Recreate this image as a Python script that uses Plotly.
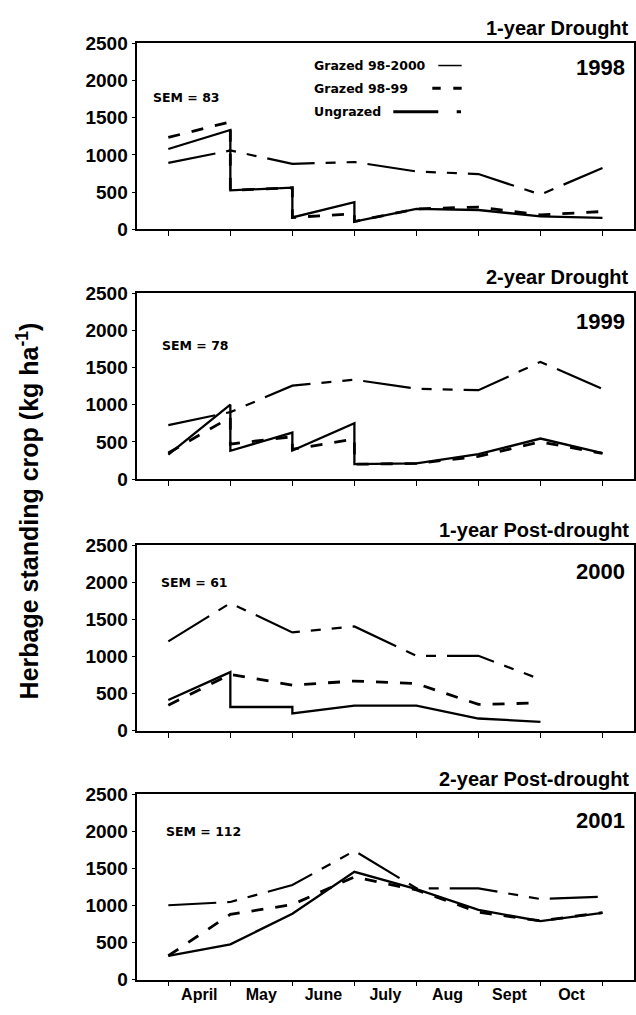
import plotly.graph_objects as go

W, H = 636, 1015

# ---------------- data ----------------
months = ["April", "May", "June", "July", "Aug", "Sept", "Oct"]
boundaries = [0, 1, 2, 3, 4, 5, 6, 7]
month_mid = [0.5, 1.5, 2.5, 3.5, 4.5, 5.5, 6.5]
yticks = [0, 500, 1000, 1500, 2000, 2500]

years = ["1998", "1999", "2000", "2001"]
panel_titles = ["1-year Drought", "2-year Drought", "1-year Post-drought", "2-year Post-drought"]
sem_labels = ["SEM = 83", "SEM = 78", "SEM = 61", "SEM = 112"]
series_names = ["Grazed 98-2000", "Grazed 98-99", "Ungrazed"]

# 1998 (grazed treatments both defoliated at May, June, July boundaries)
g9800_x_1998 = [0, 1, 1, 2, 2, 3, 3, 4, 5, 6, 7]
g9800_y_1998 = [1080, 1335, 525, 560, 160, 365, 105, 275, 260, 175, 155]
g9899_x_1998 = [0, 1, 1, 2, 2, 3, 3, 4, 5, 6, 7]
g9899_y_1998 = [1235, 1445, 525, 560, 160, 210, 105, 275, 300, 195, 240]
ungr_x_1998 = [0, 1, 2, 3, 4, 5, 6, 7]
ungr_y_1998 = [893, 1060, 880, 905, 778, 743, 468, 826]

# 1999
g9800_x_1999 = [0, 1, 1, 2, 2, 3, 3, 4, 5, 6, 7]
g9800_y_1999 = [330, 1000, 380, 625, 385, 750, 200, 210, 335, 545, 350]
g9899_x_1999 = [0, 1, 1, 2, 2, 3, 3, 4, 5, 6, 7]
g9899_y_1999 = [350, 830, 470, 570, 400, 540, 200, 210, 305, 500, 345]
ungr_x_1999 = [0, 1, 2, 3, 4, 5, 6, 7]
ungr_y_1999 = [725, 900, 1255, 1335, 1215, 1195, 1575, 1210]

# 2000
g9800_x_2000 = [0, 1, 1, 2, 2, 3, 4, 5, 6]
g9800_y_2000 = [415, 790, 320, 320, 235, 340, 340, 165, 120]
g9899_x_2000 = [0, 1, 2, 3, 4, 5, 6]
g9899_y_2000 = [345, 760, 615, 670, 635, 355, 375]
ungr_x_2000 = [0, 1, 2, 3, 4, 5, 6]
ungr_y_2000 = [1205, 1720, 1325, 1405, 1010, 1010, 692]

# 2001
g9800_x_2001 = [0, 1, 2, 3, 4, 5, 6, 7]
g9800_y_2001 = [320, 475, 889, 1455, 1220, 940, 790, 900]
g9899_x_2001 = [0, 1, 2, 3, 4, 5, 6, 7]
g9899_y_2001 = [321, 880, 1012, 1386, 1210, 910, 792, 905]
ungr_x_2001 = [0, 1, 2, 3, 4, 5, 6, 7]
ungr_y_2001 = [1003, 1047, 1276, 1738, 1232, 1232, 1087, 1118]

panels = [
    [(g9800_x_1998, g9800_y_1998), (g9899_x_1998, g9899_y_1998), (ungr_x_1998, ungr_y_1998)],
    [(g9800_x_1999, g9800_y_1999), (g9899_x_1999, g9899_y_1999), (ungr_x_1999, ungr_y_1999)],
    [(g9800_x_2000, g9800_y_2000), (g9899_x_2000, g9899_y_2000), (ungr_x_2000, ungr_y_2000)],
    [(g9800_x_2001, g9800_y_2001), (g9899_x_2001, g9899_y_2001), (ungr_x_2001, ungr_y_2001)],
]

# ---------------- styles / layout ----------------
FONT = "Liberation Sans, Arial, sans-serif"
SMALL_FONT = "DejaVu Sans, sans-serif"
line_styles = [
    dict(color="black", width=2.3, dash="solid"),
    dict(color="black", width=2.8, dash="12px,12px"),
    dict(color="black", width=2.2, dash="48px,11px,10px,11px,10px,11px"),
]

frame_top = [34, 289, 546.5, 801]
frame_bot = [224, 479, 736, 990]
plot_left, plot_right = 137.3, 633.5
sem_pos = [(151, 89), (160, 343), (159, 585), (164, 839)]
year_y = [59, 318, 573, 828]


def px(xv):
    return xv / W


def py(yv):
    return 1 - yv / H


fig = go.Figure()
for i, series in enumerate(panels):
    for j, (xs, ys) in enumerate(series):
        fig.add_trace(go.Scatter(
            x=xs, y=ys, mode="lines", name=series_names[j],
            line=line_styles[j], showlegend=False,
            xaxis=f"x{i+1}", yaxis=f"y{i+1}",
        ))

layout = dict(
    width=W, height=H,
    margin=dict(l=0, r=0, t=0, b=0),
    paper_bgcolor="white", plot_bgcolor="white",
    showlegend=False,
)

for i in range(4):
    k = "" if i == 0 else str(i + 1)
    last = i == 3
    layout[f"xaxis{k}"] = dict(
        domain=[px(plot_left), px(plot_right)],
        anchor=f"y{k}" if k else "y",
        range=[-0.5, 7.5],
        showline=True, mirror=True, linecolor="black", linewidth=1.5,
        showgrid=False, zeroline=False,
        tickmode="array", tickvals=month_mid, ticktext=months,
        ticks="", showticklabels=last,
        tickfont=dict(family=FONT, size=16, color="black", weight="bold"),
        minor=dict(tickmode="array", tickvals=boundaries, ticks="outside",
                   ticklen=5, tickwidth=1, tickcolor="black", showgrid=False),
        fixedrange=True,
    )
    layout[f"yaxis{k}"] = dict(
        domain=[py(frame_bot[i]), py(frame_top[i])],
        anchor=f"x{k}" if k else "x",
        range=[0, 2500],
        showline=True, mirror=True, linecolor="black", linewidth=1.5,
        showgrid=False, zeroline=False,
        tickmode="array", tickvals=yticks,
        ticks="outside", ticklen=4, tickwidth=1, tickcolor="black",
        tickfont=dict(family=FONT, size=19, color="black", weight="bold"),
        fixedrange=True,
    )

annotations = []
for i in range(4):
    annotations.append(dict(
        text=panel_titles[i], xref="paper", yref="paper",
        x=px(631), y=py(frame_top[i] - 16), xanchor="right", yanchor="middle",
        showarrow=False, font=dict(family=FONT, size=20, color="black", weight="bold"),
    ))
    annotations.append(dict(
        text=years[i], xref="paper", yref="paper",
        x=px(627), y=py(year_y[i]), xanchor="right", yanchor="middle",
        showarrow=False, font=dict(family=FONT, size=22, color="black", weight="bold"),
    ))
    annotations.append(dict(
        text=sem_labels[i], xref="paper", yref="paper",
        x=px(sem_pos[i][0]), y=py(sem_pos[i][1]), xanchor="left", yanchor="middle",
        showarrow=False, font=dict(family=SMALL_FONT, size=12.5, color="black", weight="bold"),
    ))

legend_rows_y = [56.7, 80, 104]
for j, name in enumerate(series_names):
    annotations.append(dict(
        text=name, xref="paper", yref="paper",
        x=px(311.7), y=py(legend_rows_y[j]), xanchor="left", yanchor="middle",
        showarrow=False, font=dict(family=SMALL_FONT, size=12.5, color="black", weight="bold"),
    ))

annotations.append(dict(
    text="Herbage standing crop (kg ha<sup>-1</sup>)", xref="paper", yref="paper",
    x=px(28), y=py(512), xanchor="center", yanchor="middle", textangle=-90,
    showarrow=False, font=dict(family=FONT, size=25, color="black", weight="bold"),
))
layout["annotations"] = annotations

# legend key samples (decoration next to the legend text)
shapes = [
    dict(type="line", xref="paper", yref="paper", x0=px(438.3), x1=px(461.7),
         y0=py(legend_rows_y[0]), y1=py(legend_rows_y[0]),
         line=dict(color="black", width=1.5)),
    dict(type="line", xref="paper", yref="paper", x0=px(432.3), x1=px(461.7),
         y0=py(legend_rows_y[1]), y1=py(legend_rows_y[1]),
         line=dict(color="black", width=3, dash="8.4px,12.6px")),
    dict(type="line", xref="paper", yref="paper", x0=px(393.3), x1=px(461.0),
         y0=py(legend_rows_y[2]), y1=py(legend_rows_y[2]),
         line=dict(color="black", width=3, dash="45px,18.4px,4.3px,10px")),
]
layout["shapes"] = shapes

fig.update_layout(**layout)
fig.write_html("out.html")
